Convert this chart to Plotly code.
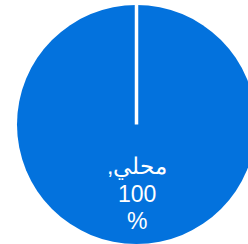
import math
import plotly.graph_objects as go

# Data
labels = ["محلي"]
values = [100]
percent_sign = "%"

slice_color = "#0372DD"

fig = go.Figure()
fig.add_trace(go.Pie(
    labels=labels,
    values=values,
    marker=dict(colors=[slice_color], line=dict(color="white", width=0)),
    textinfo="none",
    hoverinfo="label+value",
    sort=False,
    direction="clockwise",
    rotation=0,
    showlegend=False,
    domain=dict(x=[0, 1], y=[0, 1]),
))

# label at the middle angle of the slice (bottom), ~0.58 of the radius
total = sum(values)
frac_mid = (values[0] / total) / 2
ang = math.pi / 2 - 2 * math.pi * frac_mid
rfrac = 0.58
cx = 0.5 + 0.5 * rfrac * math.cos(ang)
cy = 0.5 + 0.5 * rfrac * math.sin(ang)

lines = [f"{labels[0]},\u200f", f"{values[0]}", percent_sign]
pitch = 27
for i, t in enumerate(lines):
    fig.add_annotation(
        x=cx, y=cy, xref="paper", yref="paper",
        xanchor="center", yanchor="middle",
        yshift=(1 - i) * pitch,
        text=t, showarrow=False,
        font=dict(family="Liberation Sans, Arial, sans-serif", size=23, color="white"),
        align="center",
    )

# slice boundary line (start edge of the slice, at the top)
fig.add_shape(type="line", xref="paper", yref="paper",
              x0=0.5, x1=0.5, y0=0.5, y1=1.0,
              line=dict(color="white", width=3.5))

fig.update_layout(
    width=262, height=244,
    margin=dict(l=17, r=6, t=5, b=0),
    paper_bgcolor="white",
    plot_bgcolor="white",
)

fig.write_html("out.html", config={"displayModeBar": False},
               post_script="document.body.style.margin='0';document.body.style.overflow='hidden';document.documentElement.style.overflow='hidden';")
